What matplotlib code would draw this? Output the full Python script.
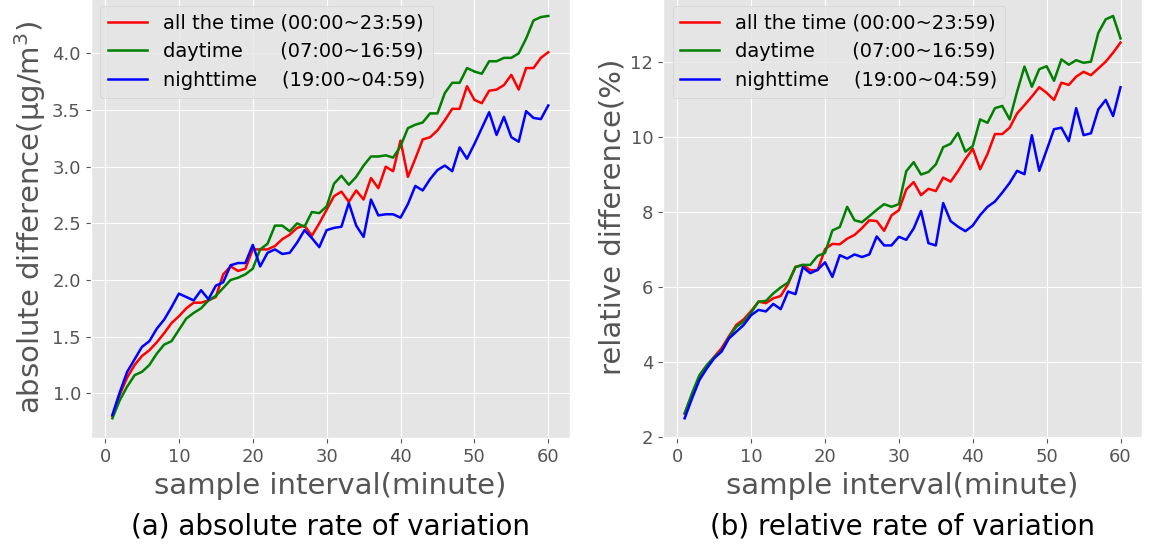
import numpy as np
import matplotlib
matplotlib.use("Agg")
import matplotlib.pyplot as plt

plt.style.use('ggplot')

# sample interval in minutes
interval = np.arange(1, 61)

labels = ['all the time (00:00~23:59)',
          'daytime      (07:00~16:59)',
          'nighttime    (19:00~04:59)']
colors = ['red', 'green', 'blue']

# (a) absolute difference, ug/m3
abs_all = [0.80, 0.99, 1.14, 1.25, 1.33, 1.38, 1.45, 1.53, 1.62, 1.68,
           1.75, 1.80, 1.80, 1.82, 1.85, 2.05, 2.12, 2.08, 2.10, 2.27,
           2.27, 2.27, 2.30, 2.36, 2.40, 2.46, 2.48, 2.39, 2.50, 2.62,
           2.74, 2.78, 2.69, 2.79, 2.71, 2.90, 2.81, 3.00, 2.96, 3.23,
           2.91, 3.07, 3.24, 3.26, 3.32, 3.41, 3.51, 3.51, 3.71, 3.59,
           3.56, 3.67, 3.68, 3.72, 3.81, 3.68, 3.87, 3.87, 3.96, 4.01]
abs_day = [0.78, 0.94, 1.06, 1.16, 1.19, 1.25, 1.35, 1.43, 1.46, 1.56,
           1.66, 1.71, 1.75, 1.82, 1.86, 1.93, 2.00, 2.02, 2.05, 2.10,
           2.27, 2.32, 2.48, 2.48, 2.43, 2.50, 2.47, 2.60, 2.59, 2.65,
           2.85, 2.92, 2.84, 2.91, 3.01, 3.09, 3.09, 3.10, 3.08, 3.18,
           3.34, 3.37, 3.39, 3.47, 3.47, 3.65, 3.74, 3.74, 3.87, 3.84,
           3.82, 3.93, 3.93, 3.96, 3.96, 4.00, 4.13, 4.29, 4.32, 4.33]
abs_night = [0.81, 1.01, 1.19, 1.30, 1.41, 1.46, 1.57, 1.65, 1.76, 1.88,
             1.85, 1.82, 1.91, 1.83, 1.95, 1.98, 2.13, 2.15, 2.15, 2.31,
             2.12, 2.24, 2.27, 2.23, 2.24, 2.33, 2.44, 2.37, 2.29, 2.44,
             2.46, 2.47, 2.68, 2.48, 2.38, 2.71, 2.57, 2.58, 2.58, 2.55,
             2.67, 2.83, 2.79, 2.89, 2.97, 3.01, 2.96, 3.17, 3.07, 3.20,
             3.34, 3.48, 3.28, 3.44, 3.26, 3.22, 3.49, 3.43, 3.42, 3.54]

# (b) relative difference, %
rel_all = [2.62, 3.11, 3.60, 3.88, 4.13, 4.36, 4.68, 4.98, 5.13, 5.35,
           5.60, 5.56, 5.69, 5.75, 6.07, 6.53, 6.58, 6.44, 6.44, 7.00,
           7.14, 7.13, 7.28, 7.38, 7.56, 7.77, 7.75, 7.49, 7.90, 8.04,
           8.59, 8.79, 8.44, 8.61, 8.55, 8.91, 8.80, 9.08, 9.40, 9.68,
           9.13, 9.54, 10.07, 10.07, 10.24, 10.62, 10.84, 11.07, 11.32, 11.17,
           10.98, 11.44, 11.38, 11.60, 11.73, 11.64, 11.82, 12.00, 12.24, 12.51]
rel_day = [2.62, 3.16, 3.64, 3.91, 4.12, 4.29, 4.65, 4.93, 5.07, 5.31,
           5.60, 5.62, 5.82, 5.98, 6.11, 6.52, 6.58, 6.58, 6.82, 6.90,
           7.50, 7.59, 8.13, 7.77, 7.72, 7.88, 8.05, 8.20, 8.13, 8.20,
           9.08, 9.32, 8.99, 9.06, 9.26, 9.72, 9.81, 10.10, 9.60, 9.75,
           10.46, 10.37, 10.76, 10.82, 10.46, 11.20, 11.87, 11.33, 11.80, 11.88,
           11.49, 12.06, 11.92, 12.04, 11.97, 12.00, 12.77, 13.13, 13.22, 12.62]
rel_night = [2.49, 3.02, 3.51, 3.82, 4.09, 4.27, 4.62, 4.80, 4.98, 5.24,
             5.38, 5.34, 5.54, 5.40, 5.87, 5.80, 6.52, 6.36, 6.45, 6.65,
             6.26, 6.84, 6.75, 6.86, 6.79, 6.86, 7.34, 7.10, 7.10, 7.33,
             7.25, 7.55, 8.02, 7.16, 7.10, 8.23, 7.75, 7.60, 7.48, 7.63,
             7.91, 8.13, 8.27, 8.51, 8.77, 9.09, 9.00, 10.04, 9.09, 9.64,
             10.20, 10.24, 9.88, 10.76, 10.04, 10.09, 10.73, 10.98, 10.55, 11.32]

fig = plt.figure(figsize=(11.5, 5.5), dpi=100)
ax1 = fig.add_axes([0.0788, 0.2029, 0.4169, 0.8047])
ax2 = fig.add_axes([0.5764, 0.2029, 0.4169, 0.8047])

for ax, series, ylab, caption in [
        (ax1, [abs_all, abs_day, abs_night], r'absolute difference($\mathrm{\mu g/m^3}$)',
         '(a) absolute rate of variation'),
        (ax2, [rel_all, rel_day, rel_night], 'relative difference(%)',
         '(b) relative rate of variation')]:
    for s, c, lab in zip(series, colors, labels):
        ax.plot(interval, s, color=c, lw=1.8, label=lab)
    ax.set_xlabel('sample interval(minute)', fontsize=21)
    ax.set_ylabel(ylab, fontsize=21, labelpad=3)
    ax.tick_params(labelsize=13)
    ax.set_xticks([0, 10, 20, 30, 40, 50, 60])
    ax.legend(loc='upper left', fontsize=14)
    pos = ax.get_position()
    fig.text(pos.x0 + pos.width / 2, 0.042, caption, ha='center', va='center',
             fontsize=20, color='black')

ax1.set_yticks([1.0, 1.5, 2.0, 2.5, 3.0, 3.5, 4.0])
ax2.set_yticks([2, 4, 6, 8, 10, 12])

fig.savefig('out.png', dpi=100)
